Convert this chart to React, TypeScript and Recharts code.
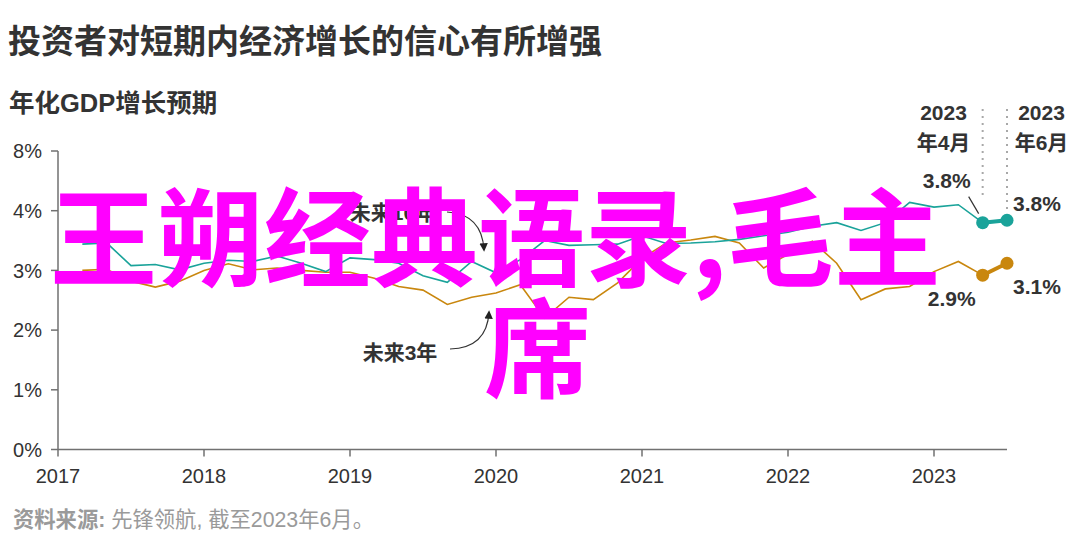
import React from 'react';
import { LineChart, Line, XAxis, YAxis, ReferenceLine, LabelList } from 'recharts';

// survey months, every two months
const surveyMonths = [
  '2017-02', '2017-04', '2017-06', '2017-08', '2017-10', '2017-12',
  '2018-02', '2018-04', '2018-06', '2018-08', '2018-10', '2018-12',
  '2019-02', '2019-04', '2019-06', '2019-08', '2019-10', '2019-12',
  '2020-02', '2020-04', '2020-06', '2020-08', '2020-10', '2020-12',
  '2021-02', '2021-04', '2021-06', '2021-08', '2021-10', '2021-12',
  '2022-02', '2022-04', '2022-06', '2022-08', '2022-10', '2022-12',
  '2023-02', '2023-04', '2023-06',
];

// 未来10年 (teal)
const tenYearOutlook = [
  3.44, 3.46, 3.08, 3.10, 3.01, 3.12,
  3.17, 3.15, 3.24, 3.12, 2.98, 3.21,
  3.18, 3.12, 2.91, 2.80, 3.15, 2.96,
  3.18, 3.50, 3.42, 3.43, 3.44, 3.58,
  3.45, 3.46, 3.48, 3.52, 3.58, 3.64,
  3.74, 3.80, 3.67, 3.80, 4.14, 4.06,
  4.10, 3.80, 3.84,
];

// 未来3年 (gold)
const threeYearOutlook = [
  3.00, 3.02, 2.82, 2.72, 2.82, 3.00,
  3.11, 3.01, 3.04, 3.00, 2.97, 2.97,
  2.87, 2.73, 2.67, 2.43, 2.55, 2.62,
  2.76, 2.20, 2.55, 2.51, 2.79, 3.20,
  3.46, 3.51, 3.57, 3.46, 3.04, 3.27,
  3.49, 3.12, 2.51, 2.69, 2.73, 2.98,
  3.15, 2.92, 3.12,
];

const yearTicks = [2017, 2018, 2019, 2020, 2021, 2022, 2023];
const yTicks = [0, 1, 2, 3, 4, 5];
const yTickLabels = ['0%', '1%', '2%', '3%', '4%', '8%']; // broken axis at the top

const TEAL = '#1aa39a';
const GOLD = '#c9870e';
const AXIS = '#717171';
const TEXT = '#333333';
const SANS = '"Liberation Sans", Arial, "Noto Sans CJK SC", sans-serif';
const CJK = '"Noto Sans CJK SC", "Liberation Sans", sans-serif';

const toYear = (m: string) => {
  const [y, mo] = m.split('-').map(Number);
  return y + mo / 12;
};

const last = surveyMonths.length - 1;
const data = surveyMonths.map((m, i) => ({
  t: toYear(m),
  ten: i <= last - 1 ? tenYearOutlook[i] : null,
  three: i <= last - 1 ? threeYearOutlook[i] : null,
  tenEnd: i >= last - 1 ? tenYearOutlook[i] : null,
  threeEnd: i >= last - 1 ? threeYearOutlook[i] : null,
}));

const tApr = toYear(surveyMonths[last - 1]);
const tJun = toYear(surveyMonths[last]);

// offsets of the end labels from their dots: [April, June]
const tenOffsets = [{ dx: -36, dy: -42 }, { dx: 30, dy: -17 }];
const threeOffsets = [{ dx: -31, dy: 23 }, { dx: 30, dy: 23 }];

const endLabel = (offsets: { dx: number; dy: number }[], leader: boolean) => (props: any) => {
  const { x, y, value, index } = props;
  if (value == null || x == null || y == null) return null;
  const k = index - (last - 1);
  if (k < 0) return null;
  const o = offsets[k];
  return (
    <g>
      {leader && k === 0 && (
        <line x1={x - 14} y1={y - 26} x2={x - 4} y2={y - 9} stroke="#333" strokeWidth={1.2} />
      )}
      <text
        x={x + o.dx}
        y={y + o.dy}
        textAnchor="middle"
        dominantBaseline="central"
        fontFamily={SANS}
        fontWeight="bold"
        fontSize={21}
        fill={TEXT}
      >
        {`${Number(value).toFixed(1)}%`}
      </text>
    </g>
  );
};

export default function App() {
  return (
    <div style={{ position: 'absolute', left: 0, top: 0, width: 1080, height: 556, background: '#fff' }}>
      <LineChart
        width={1080}
        height={556}
        data={data}
        margin={{ top: 151, right: 73, bottom: 76.5, left: 0 }}
      >
        <XAxis
          dataKey="t"
          type="number"
          domain={[2017, tJun]}
          ticks={yearTicks}
          tickFormatter={(v) => String(v)}
          stroke={AXIS}
          strokeWidth={1.5}
          tickSize={7}
          tickMargin={12}
          height={30}
          tick={{ fill: TEXT, fontSize: 20, fontFamily: SANS }}
        />
        <YAxis
          domain={[0, 5]}
          ticks={yTicks}
          tickFormatter={(v) => yTickLabels[yTicks.indexOf(v)]}
          stroke={AXIS}
          strokeWidth={1.5}
          tickSize={7}
          tickMargin={9}
          width={58}
          tick={{ fill: TEXT, fontSize: 20, fontFamily: SANS }}
        />
        <ReferenceLine
          segment={[{ x: tApr, y: 5.7 }, { x: tApr, y: 4.25 }]}
          stroke="#8c8c8c"
          strokeWidth={2}
          strokeDasharray="1.5 5.5"
          ifOverflow="visible"
        />
        <ReferenceLine
          segment={[{ x: tJun, y: 5.7 }, { x: tJun, y: 4.02 }]}
          stroke="#8c8c8c"
          strokeWidth={2}
          strokeDasharray="1.5 5.5"
          ifOverflow="visible"
        />
        <Line dataKey="three" stroke={GOLD} strokeWidth={1.6} dot={false} isAnimationActive={false} />
        <Line dataKey="ten" stroke={TEAL} strokeWidth={1.6} dot={false} isAnimationActive={false} />
        <Line
          dataKey="threeEnd"
          stroke={GOLD}
          strokeWidth={4}
          dot={{ r: 6.5, fill: GOLD, stroke: GOLD, strokeWidth: 0 }}
          isAnimationActive={false}
        >
          <LabelList dataKey="threeEnd" content={endLabel(threeOffsets, false)} />
        </Line>
        <Line
          dataKey="tenEnd"
          stroke={TEAL}
          strokeWidth={4}
          dot={{ r: 6.5, fill: TEAL, stroke: TEAL, strokeWidth: 0 }}
          isAnimationActive={false}
        >
          <LabelList dataKey="tenEnd" content={endLabel(tenOffsets, true)} />
        </Line>
      </LineChart>

      <svg
        width={1080}
        height={556}
        style={{ position: 'absolute', left: 0, top: 0, pointerEvents: 'none' }}
      >
        <defs>
          <marker id="arrow" viewBox="0 0 10 10" refX="8" refY="5" markerWidth="7" markerHeight="7" orient="auto">
            <path d="M0,0 L10,5 L0,10 z" fill="#222" />
          </marker>
        </defs>

        <text x={8} y={53} fontFamily={CJK} fontWeight="bold" fontSize={33} fill={TEXT}>
          投资者对短期内经济增长的信心有所增强
        </text>
        <text x={9} y={112} fontFamily={SANS} fontWeight="bold" fontSize={25.5} fill={TEXT}>
          年化GDP增长预期
        </text>

        <g fontFamily={SANS} fontWeight="bold" fontSize={21} fill={TEXT} textAnchor="middle">
          <text x={943.5} y={112} dominantBaseline="central">2023</text>
          <text x={943.5} y={142} dominantBaseline="central">年4月</text>
          <text x={1041.5} y={112} dominantBaseline="central">2023</text>
          <text x={1041.5} y={142} dominantBaseline="central">年6月</text>
        </g>

        <g fontFamily={SANS} fontWeight="bold" fontSize={21} fill={TEXT} textAnchor="middle">
          <text x={393} y={212} dominantBaseline="central">未来10年</text>
          <text x={400} y={352} dominantBaseline="central">未来3年</text>
        </g>
        <path d="M 447 212 Q 482 214 484 250" fill="none" stroke="#333" strokeWidth={1.2} markerEnd="url(#arrow)" />
        <path d="M 450 349 Q 487 348 489 312" fill="none" stroke="#333" strokeWidth={1.2} markerEnd="url(#arrow)" />

        <text x={13} y={527} fontFamily={SANS} fontSize={21.3} fill="#9a9a9a">
          <tspan fontWeight="bold">资料来源:</tspan>
          <tspan> 先锋领航, 截至2023年6月。</tspan>
        </text>

        <g fontFamily={CJK} fontWeight="bold" fontSize={107} fill="#ff00ff">
          <text x={50} y={278}>王朔经典语录,毛主</text>
          <text x={484} y={389}>席</text>
        </g>
      </svg>
    </div>
  );
}
